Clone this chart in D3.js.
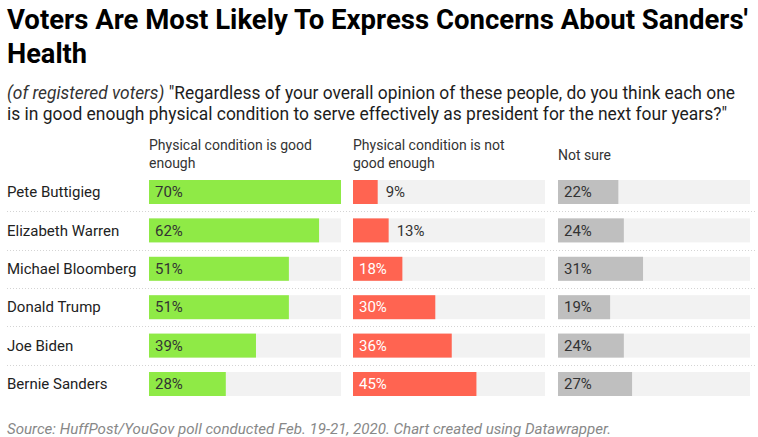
<!DOCTYPE html>
<html>
<head>
<meta charset="utf-8">
<script src="https://cdn.jsdelivr.net/npm/d3@7"></script>
<style>
  html, body { margin: 0; padding: 0; background: #fff; }
  svg { display: block; font-family: Roboto, "Noto Sans", sans-serif; }
</style>
</head>
<body>
<svg id="chart" width="758" height="437"></svg>
<script>
const names = ["Pete Buttigieg", "Elizabeth Warren", "Michael Bloomberg", "Donald Trump", "Joe Biden", "Bernie Sanders"];
const goodEnough = [70, 62, 51, 51, 39, 28];
const notGoodEnough = [9, 13, 18, 30, 36, 45];
const notSure = [22, 24, 31, 19, 24, 27];
const columnHeaders = [["Physical condition is good", "enough"], ["Physical condition is not", "good enough"], ["Not sure"]];
const title = ["Voters Are Most Likely To Express Concerns About Sanders'", "Health"];
const subtitleItalic = "(of registered voters)";
const subtitleLine1 = " \"Regardless of your overall opinion of these people, do you think each one";
const subtitleLine2 = "is in good enough physical condition to serve effectively as president for the next four years?\"";
const footer = "Source: HuffPost/YouGov poll conducted Feb. 19-21, 2020. Chart created using Datawrapper.";

const svg = d3.select("#chart");

// Title
svg.append("text").attr("x", 7).attr("y", 29)
  .attr("font-size", 27.5).attr("font-weight", 700).attr("fill", "#000")
  .attr("textLength", 741).attr("lengthAdjust", "spacingAndGlyphs")
  .text(title[0]);
svg.append("text").attr("x", 7).attr("y", 63)
  .attr("font-size", 27.5).attr("font-weight", 700).attr("fill", "#000")
  .attr("textLength", 80).attr("lengthAdjust", "spacingAndGlyphs")
  .text(title[1]);

// Subtitle
const st1 = svg.append("text").attr("x", 7).attr("y", 99)
  .attr("font-size", 17.5).attr("fill", "#1d1d1d")
  .attr("textLength", 728).attr("lengthAdjust", "spacingAndGlyphs");
st1.append("tspan").attr("font-style", "italic").attr("fill", "#333").text(subtitleItalic);
st1.append("tspan").text(subtitleLine1);
svg.append("text").attr("x", 7).attr("y", 120)
  .attr("font-size", 17.5).attr("fill", "#1d1d1d")
  .attr("textLength", 720).attr("lengthAdjust", "spacingAndGlyphs")
  .text(subtitleLine2);

// Scales
const y = d3.scaleBand().domain(names).range([172.8, 403.2]).paddingInner(0.375).paddingOuter(0.1875);
const colStarts = [149, 353, 558];
const colWidth = 192;
const x = d3.scaleLinear().domain([0, 70]).range([0, colWidth]);

const series = [
  { values: goodEnough, color: "#8fea46", inText: "#333", outText: "#333" },
  { values: notGoodEnough, color: "#ff6451", inText: "#fff", outText: "#333" },
  { values: notSure, color: "#bfbfbf", inText: "#333", outText: "#333" }
];

// Column headers
columnHeaders.forEach((lines, i) => {
  const t = svg.append("text").attr("x", colStarts[i]).attr("font-size", 14).attr("fill", "#333");
  if (lines.length === 2) {
    t.append("tspan").attr("x", colStarts[i]).attr("y", 150).text(lines[0]);
    t.append("tspan").attr("x", colStarts[i]).attr("y", 168).text(lines[1]);
  } else {
    t.attr("y", 160).text(lines[0]);
  }
});

// Separators
const step = y.step();
svg.append("g").selectAll("line").data(names.slice(0, -1)).join("line")
  .attr("x1", 7).attr("x2", 755)
  .attr("y1", d => Math.round(y(d) + y.bandwidth() + (step - y.bandwidth()) / 2) + 0.5)
  .attr("y2", d => Math.round(y(d) + y.bandwidth() + (step - y.bandwidth()) / 2) + 0.5)
  .attr("stroke", "#d4d4d4").attr("stroke-width", 1).attr("stroke-dasharray", "1,2");

// Row names
svg.append("g").selectAll("text").data(names).join("text")
  .attr("x", 7).attr("y", d => y(d) + y.bandwidth() / 2)
  .attr("dy", "0.35em").attr("font-size", 15).attr("fill", "#222")
  .text(d => d);

// Bars
series.forEach((s, i) => {
  const g = svg.append("g").attr("transform", `translate(${colStarts[i]},0)`);
  g.selectAll("rect.bg").data(names).join("rect").attr("class", "bg")
    .attr("x", 0).attr("y", d => y(d)).attr("width", x(70)).attr("height", y.bandwidth())
    .attr("fill", "#f2f2f2");
  g.selectAll("rect.bar").data(names).join("rect").attr("class", "bar")
    .attr("x", 0).attr("y", d => y(d)).attr("width", (d, j) => x(s.values[j])).attr("height", y.bandwidth())
    .attr("fill", s.color);
  g.selectAll("text").data(names).join("text")
    .attr("x", (d, j) => s.values[j] < 15 ? x(s.values[j]) + 8 : 6)
    .attr("y", d => y(d) + y.bandwidth() / 2)
    .attr("dy", "0.35em").attr("font-size", 15)
    .attr("fill", (d, j) => s.values[j] < 15 ? s.outText : s.inText)
    .text((d, j) => s.values[j] + "%");
});

// Footer
svg.append("text").attr("x", 7).attr("y", 434)
  .attr("font-size", 15).attr("font-style", "italic").attr("fill", "#888")
  .attr("textLength", 604).attr("lengthAdjust", "spacingAndGlyphs")
  .text(footer);
</script>
</body>
</html>
